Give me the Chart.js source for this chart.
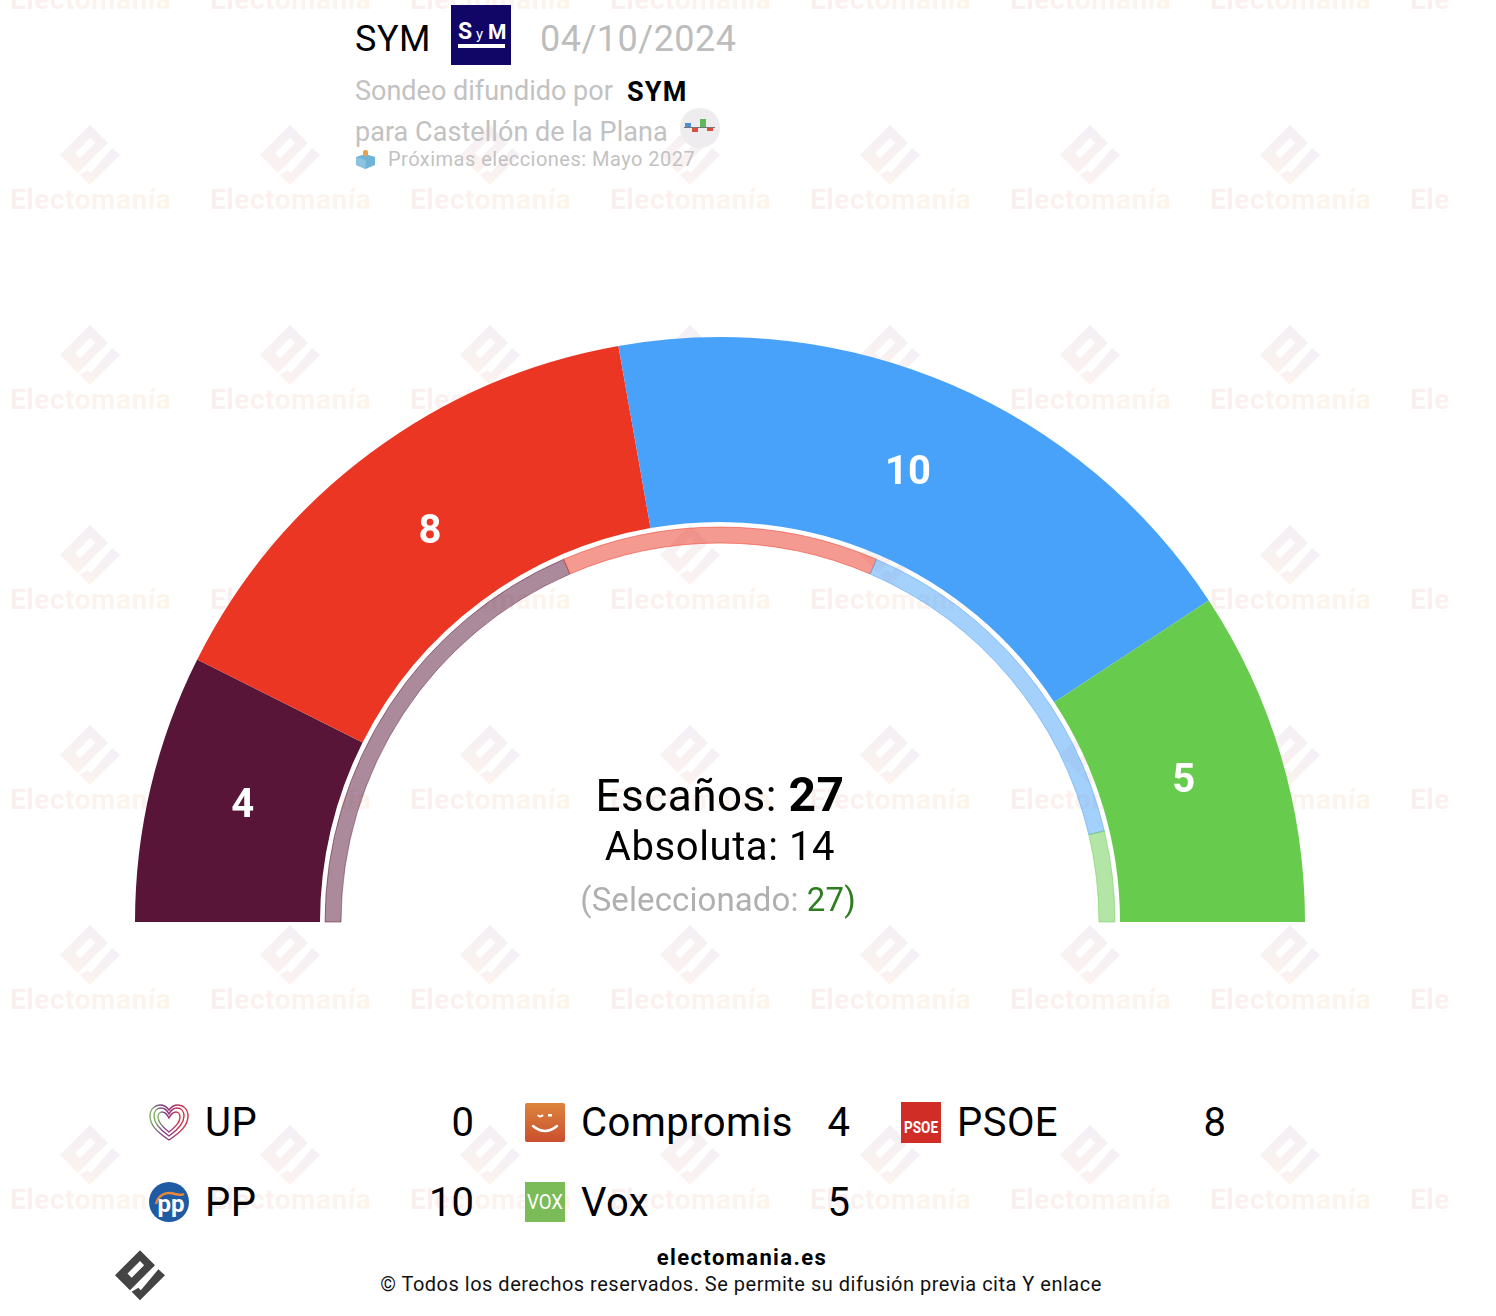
<!DOCTYPE html>
<html lang="es">
<head>
<meta charset="utf-8">
<title>SYM 04/10/2024</title>
<script src="https://cdn.jsdelivr.net/npm/chart.js@4"></script>
<style>
  html, body { margin: 0; background: #fff; }
  body { position: relative; width: 1496px; height: 1316px; overflow: hidden; font-family: Roboto, sans-serif; color: #000; }
  .t { position: absolute; white-space: nowrap; line-height: 1; }
  .c { transform: translateX(-50%); }
  .r { transform: translateX(-100%); }
  #marks { position: absolute; left: 0; top: 0; width: 1450px; height: 1316px; overflow: hidden; }
  .mark-text { position: absolute; font: bold 28px Roboto, sans-serif; line-height: 1; letter-spacing: .55px;
    background: linear-gradient(90deg, #faefef, #fdf5ec); -webkit-background-clip: text; background-clip: text; color: transparent; }
  .mark-logo { position: absolute; width: 60px; height: 62px; }
  #gauge { position: absolute; left: 125px; top: 329px; }
  svg.i { position: absolute; }
</style>
</head>
<body>
<svg width="0" height="0" style="position:absolute">
  <defs>
    <linearGradient id="wm" x1="0" y1="0" x2="0" y2="1">
      <stop offset="0" stop-color="#f3eff6"/><stop offset="1" stop-color="#fcf3ee"/>
    </linearGradient>
    <linearGradient id="heart" x1="0" y1="0" x2="1" y2="0">
      <stop offset="0" stop-color="#7fb463"/><stop offset=".3" stop-color="#7b3a8c"/><stop offset="1" stop-color="#d5303f"/>
    </linearGradient>
    <linearGradient id="comp" x1="0" y1="0" x2="0" y2="1">
      <stop offset="0" stop-color="#dd853c"/><stop offset="1" stop-color="#c94f2e"/>
    </linearGradient>
    <symbol id="logo" viewBox="0 0 60 62">
      <path d="M30 0 48 18 18 48 0 30Z M30 13 15 28 20 33 35 18Z" fill-rule="evenodd"/>
      <path d="M60 30 30 60 20 50 28 45 31 48 52 23Z"/>
    </symbol>
  </defs>
</svg>

<div id="marks"></div>
<canvas id="gauge" width="1190" height="601"></canvas>

<div class="t" style="left:355px;top:21px;font-size:36px;letter-spacing:.5px">SYM</div>
<svg class="i" style="left:451px;top:5px" width="60" height="60" viewBox="0 0 60 60">
  <rect width="60" height="60" fill="#110566"/>
  <text x="7" y="34" font-family="Roboto" font-weight="bold" font-size="23" fill="#fff">S</text>
  <text x="25" y="34" font-family="Roboto" font-size="15" fill="#fff">y</text>
  <text x="37" y="34" font-family="Roboto" font-weight="bold" font-size="21" fill="#fff">M</text>
  <rect x="7" y="39" width="47" height="4" fill="#fff"/>
</svg>
<div class="t" style="left:540px;top:21px;font-size:36px;color:#bdbdbd;letter-spacing:.5px">04/10/2024</div>
<div class="t" style="left:355px;top:78px;font-size:27px;color:#c2c2c2">Sondeo difundido por</div>
<div class="t" style="left:627px;top:79px;font-size:27px;font-weight:bold;letter-spacing:1.2px">SYM</div>
<div class="t" style="left:355px;top:119px;font-size:27px;color:#c2c2c2;letter-spacing:.05px">para Castellón de la Plana</div>
<svg class="i" style="left:680px;top:108px" width="40" height="40" viewBox="0 0 40 40">
  <circle cx="20" cy="20" r="20" fill="#eeecee"/>
  <rect x="5" y="15" width="6" height="4" fill="#4a90d9"/>
  <rect x="12" y="20" width="6" height="4" fill="#d9503f"/>
  <rect x="20" y="11" width="6" height="8" fill="#5fb95a"/>
  <rect x="27" y="20" width="6" height="3" fill="#d9503f"/>
  <rect x="4" y="19" width="31" height="1" fill="#777"/>
</svg>
<svg class="i" style="left:355px;top:149px" width="21" height="21" viewBox="0 0 21 21">
  <path d="M1 8 10.500 5 20 8 20 16 10.500 20 1 16Z" fill="#6fb3d6"/>
  <path d="M10.500 11 10.500 20 1 16 1 8Z" fill="#8cc4e0"/>
  <rect x="8" y="1" width="5" height="6" rx="2" fill="#e8a04a"/>
</svg>
<div class="t" style="left:388px;top:149px;font-size:20px;color:#c2c2c2;letter-spacing:.48px">Próximas elecciones: Mayo 2027</div>

<div class="t c" style="left:720px;top:771px;font-size:44px;letter-spacing:.5px">Escaños: <b style="font-size:48px">27</b></div>
<div class="t c" style="left:720px;top:827px;font-size:40px;letter-spacing:.6px">Absoluta: 14</div>
<div class="t c" style="left:718px;top:883px;font-size:33px;letter-spacing:.1px;color:#b0b0b0">(Seleccionado: <span style="color:#2e7d1e">27)</span></div>

<svg class="i" style="left:149px;top:1103px" width="40" height="40" viewBox="0 0 40 40" fill="none" stroke="url(#heart)" stroke-width="1.400">
  <path d="M20 37C8 29 1 22 1 13 1 6 6 2 11 2 15 2 18 4 20 7 22 4 25 2 29 2 34 2 39 6 39 13 39 22 32 29 20 37Z"/>
  <path d="M20 33C10 26 5 20 5 13 5 8 8 5 12 5 15 5 18 7 20 11 22 7 25 5 28 5 32 5 35 8 35 13 35 20 30 26 20 33Z"/>
  <path d="M20 29C12 23 9 18 9 14 9 11 11 9 13 9 16 9 18 11 20 15 22 11 24 9 27 9 29 9 31 11 31 14 31 18 28 23 20 29Z"/>
</svg>
<svg class="i" style="left:525px;top:1103px" width="40" height="40" viewBox="0 0 40 40">
  <rect width="40" height="39" rx="2" fill="url(#comp)"/>
  <path d="M8 23Q20 33 32 23" fill="none" stroke="#fff" stroke-width="2.500" stroke-linecap="round"/>
  <path d="M13 12Q15 15 18 12" fill="none" stroke="#fff" stroke-width="2"/>
  <rect x="23" y="11" width="4" height="2.500" fill="#fff"/>
</svg>
<svg class="i" style="left:901px;top:1102px" width="40" height="41" viewBox="0 0 40 41">
  <rect width="40" height="41" fill="#d12d27"/>
  <text x="20" y="31" text-anchor="middle" font-family="Roboto" font-weight="bold" font-size="16" textLength="34" lengthAdjust="spacingAndGlyphs" fill="#fff">PSOE</text>
</svg>
<svg class="i" style="left:149px;top:1182px" width="40" height="40" viewBox="0 0 40 40">
  <circle cx="20" cy="20" r="20" fill="#1f5ba3"/>
  <path d="M7 22C9 13 17 9 26 12 30 13 33 13 35 12" fill="none" stroke="#e8883a" stroke-width="2.500"/>
  <text x="22" y="30" text-anchor="middle" font-family="Roboto" font-weight="bold" font-size="24" fill="#fff">pp</text>
</svg>
<svg class="i" style="left:525px;top:1182px" width="40" height="40" viewBox="0 0 40 40">
  <rect width="40" height="40" fill="#7bbb58"/>
  <text x="20" y="27" text-anchor="middle" font-family="Roboto" font-size="21" textLength="36" lengthAdjust="spacingAndGlyphs" fill="#fff">VOX</text>
</svg>

<div id="legend"></div>

<svg class="i" style="left:115px;top:1250px;fill:#444" width="50" height="52"><use href="#logo"/></svg>
<div class="t c" style="left:742px;top:1247px;font-size:22px;font-weight:bold;letter-spacing:1.4px">electomania.es</div>
<div class="t c" style="left:741px;top:1274px;font-size:20px;letter-spacing:.5px;color:#111">© Todos los derechos reservados. Se permite su difusión previa cita Y enlace</div>

<script>
const parties = ["UP", "Compromis", "PSOE", "PP", "Vox"];
const seats = [0, 4, 8, 10, 5];
const previousSeats = [0, 10, 7, 8, 2];
const partyColors = ["#8c3b8f", "#581537", "#eb3624", "#49a2fa", "#67cb4e"];
const ringFill = ["#8c3b8f80", "#58153780", "#eb362480", "#49a2fa80", "#67cb4e80"];

// the seat numbers don't sit exactly on the arc centres in the original
const labelNudgeX = [0, 2, 4, -7, -8];
const labelNudgeY = [0, 0, 7, 5, 2];

// watermark tiles behind everything
const marks = document.getElementById("marks");
for (let row = 0; row <= 6; row++) {
  for (let col = 0; col <= 7; col++) {
    const x = col * 200;
    const y = row * 200;
    const text = document.createElement("div");
    text.className = "mark-text";
    text.textContent = "Electomanía";
    text.style.left = x + 10 + "px";
    text.style.top = y - 14 + "px";
    marks.appendChild(text);
    if (row > 0) {
      marks.insertAdjacentHTML(
        "beforeend",
        `<svg class="mark-logo" style="left:${x + 60}px;top:${y - 75}px;fill:url(#wm)"><use href="#logo"/></svg>`,
      );
    }
  }
}

// legend rows
const legend = document.getElementById("legend");
parties.forEach((name, i) => {
  const col = i % 3;
  const rowTop = 1103 + Math.floor(i / 3) * 80;
  legend.insertAdjacentHTML(
    "beforeend",
    `<div class="t" style="left:${205 + col * 376}px;top:${rowTop}px;font-size:40px;letter-spacing:.45px">${name}</div>` +
      `<div class="t r" style="left:${474 + col * 376}px;top:${rowTop}px;font-size:40px">${seats[i]}</div>`,
  );
});

const seatLabels = {
  id: "seatLabels",
  afterDatasetsDraw(chart) {
    const ctx = chart.ctx;
    ctx.save();
    ctx.fillStyle = "#fff";
    ctx.font = "bold 40px Roboto";
    ctx.textAlign = "center";
    ctx.textBaseline = "middle";
    chart.getDatasetMeta(0).data.forEach((arc, i) => {
      if (!seats[i]) return;
      const p = arc.getCenterPoint();
      ctx.fillText(seats[i], p.x + labelNudgeX[i], p.y - 1 + labelNudgeY[i]);
    });
    ctx.restore();
  },
};

new Chart(document.getElementById("gauge"), {
  type: "doughnut",
  data: {
    labels: parties,
    datasets: [
      { data: seats, backgroundColor: partyColors, borderWidth: 0, weight: 185 },
      // empty ring, only leaves the white gap
      { data: [], weight: 5 },
      {
        data: previousSeats,
        backgroundColor: ringFill,
        borderColor: ringFill,
        borderWidth: (c) => (previousSeats[c.dataIndex] ? 1 : 0),
        weight: 16,
      },
    ],
  },
  options: {
    responsive: false,
    animation: false,
    rotation: -90,
    circumference: 180,
    radius: 585,
    cutout: `${(379 / 585) * 100}%`,
    plugins: { legend: { display: false }, tooltip: { enabled: false } },
  },
  plugins: [seatLabels],
});
</script>
</body>
</html>
